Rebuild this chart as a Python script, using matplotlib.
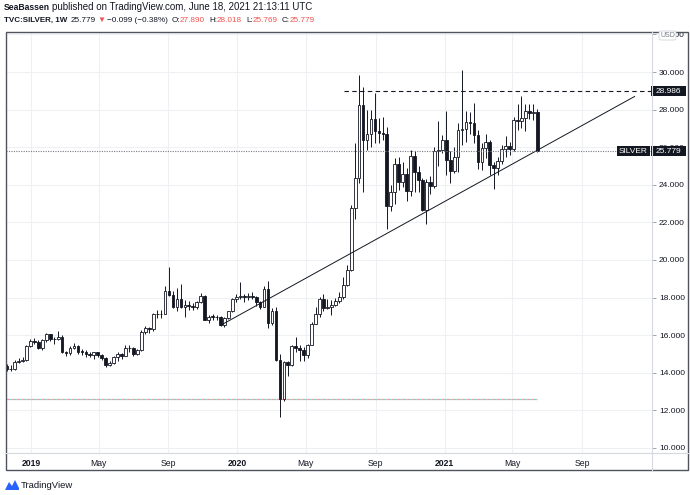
import matplotlib
matplotlib.use("Agg")
import matplotlib.pyplot as plt
import matplotlib.dates as mdates
from matplotlib.patches import Rectangle, FancyBboxPatch, Polygon
import numpy as np
import pandas as pd

plt.rcParams['font.family'] = ['Liberation Sans', 'DejaVu Sans']

# weekly TVC:SILVER candles, first week below, one value per week
first_week = "2018-11-19"
opens = [14.38, 14.20, 14.18, 14.58, 14.65, 14.68, 15.42, 15.70, 15.62, 15.30,
         15.74, 16.05, 15.82, 15.77, 15.88, 15.10, 15.05, 15.31, 15.42, 15.12,
         15.11, 14.99, 14.97, 15.09, 14.95, 14.77, 14.42, 14.54, 14.84, 15.02,
         14.91, 15.34, 15.30, 15.00, 15.20, 16.18, 16.39, 16.31, 17.11, 17.14,
         17.11, 18.36, 18.14, 17.49, 17.90, 17.50, 17.61, 17.54, 17.52, 17.74,
         18.10, 16.82, 16.98, 16.97, 16.95, 16.55, 16.90, 17.26, 17.95, 18.04,
         18.08, 18.02, 18.07, 18.03, 17.75, 17.50, 18.45, 16.63, 17.26, 14.68,
         12.58, 14.55, 14.40, 15.40, 15.33, 15.22, 14.95, 15.50, 16.60, 17.15,
         17.90, 17.45, 17.50, 17.58, 17.81, 18.03, 18.68, 19.45, 22.75, 24.38,
         28.25, 26.38, 26.70, 27.50, 26.85, 26.75, 26.70, 22.88, 23.62, 25.10,
         24.15, 24.55, 23.66, 25.55, 24.70, 24.25, 22.64, 24.15, 23.95, 25.80,
         25.85, 26.40, 25.30, 24.75, 25.50, 26.92, 26.95, 27.33, 27.27, 26.65,
         25.20, 25.95, 26.30, 25.05, 24.90, 25.25, 25.90, 26.05, 25.90, 27.45,
         27.40, 27.55, 27.94, 27.80, 27.89]
highs = [14.48, 14.40, 14.68, 14.80, 14.82, 15.48, 15.82, 15.87, 15.72, 15.80,
         16.14, 16.08, 15.92, 16.20, 16.00, 15.18, 15.40, 15.60, 15.45, 15.25,
         15.20, 15.10, 15.12, 15.12, 15.00, 14.82, 14.60, 14.88, 15.10, 15.05,
         15.50, 15.48, 15.38, 15.25, 16.30, 16.50, 16.45, 17.20, 17.33, 17.35,
         18.60, 19.65, 18.35, 18.50, 18.72, 17.85, 17.80, 17.70, 17.80, 18.25,
         18.15, 17.05, 17.10, 17.08, 17.00, 16.95, 17.30, 17.98, 18.20, 18.85,
         18.20, 18.25, 18.30, 18.10, 17.80, 18.60, 18.90, 17.45, 17.50, 15.00,
         14.65, 14.60, 15.50, 15.90, 15.45, 15.35, 15.55, 16.70, 17.50, 18.05,
         18.20, 17.95, 17.85, 18.00, 18.30, 19.10, 19.75, 22.90, 26.20, 29.86,
         29.20, 28.00, 28.00, 28.89, 27.55, 27.60, 27.10, 24.00, 25.40, 25.50,
         25.20, 24.90, 25.85, 25.80, 25.00, 24.35, 24.30, 24.45, 26.00, 27.40,
         26.65, 27.92, 25.80, 26.00, 27.30, 30.10, 27.95, 27.90, 28.35, 26.90,
         26.25, 26.70, 26.40, 25.20, 25.50, 26.10, 26.60, 26.30, 27.60, 28.30,
         28.74, 28.30, 28.30, 28.30, 28.018]
lows = [14.10, 14.08, 14.15, 14.52, 14.55, 14.65, 15.35, 15.55, 15.25, 15.20,
        15.65, 15.70, 15.55, 15.75, 15.05, 14.88, 14.95, 15.25, 15.00, 14.95,
        14.85, 14.85, 14.72, 14.85, 14.70, 14.28, 14.35, 14.45, 14.60, 14.75,
        14.90, 15.10, 14.90, 14.95, 15.15, 16.05, 16.10, 16.20, 16.90, 16.90,
        17.10, 18.10, 17.45, 17.30, 17.45, 16.95, 17.35, 17.35, 17.40, 17.70,
        16.80, 16.63, 16.80, 16.80, 16.50, 16.45, 16.85, 17.25, 17.75, 17.95,
        17.75, 17.85, 17.90, 17.55, 17.40, 17.48, 16.40, 16.55, 14.60, 11.64,
        12.50, 13.85, 14.35, 15.10, 14.65, 14.65, 14.80, 15.45, 16.60, 16.95,
        17.30, 17.40, 17.05, 17.55, 17.70, 17.95, 18.60, 19.40, 22.20, 24.10,
        23.60, 25.85, 26.00, 26.25, 26.20, 26.40, 21.67, 22.60, 23.00, 23.70,
        23.90, 23.15, 23.40, 23.60, 23.60, 22.60, 21.90, 23.50, 23.85, 25.00,
        25.70, 24.50, 24.10, 24.65, 24.70, 26.10, 26.30, 26.70, 26.20, 24.85,
        24.80, 25.40, 24.50, 23.78, 24.50, 25.10, 25.50, 25.60, 25.80, 26.90,
        27.00, 26.85, 27.50, 27.45, 25.769]
closes = [14.20, 14.18, 14.58, 14.65, 14.68, 15.42, 15.70, 15.62, 15.30, 15.74,
          16.05, 15.82, 15.77, 15.88, 15.10, 15.05, 15.31, 15.42, 15.12, 15.11,
          14.99, 14.97, 15.09, 14.95, 14.77, 14.42, 14.54, 14.84, 15.02, 14.91,
          15.34, 15.30, 15.00, 15.20, 16.18, 16.39, 16.31, 17.11, 17.14, 17.11,
          18.36, 18.14, 17.49, 17.90, 17.50, 17.61, 17.54, 17.52, 17.74, 18.10,
          16.82, 16.98, 16.97, 16.95, 16.55, 16.90, 17.26, 17.95, 18.04, 18.08,
          18.02, 18.07, 18.03, 17.75, 17.50, 18.45, 16.63, 17.26, 14.68, 12.58,
          14.55, 14.40, 15.40, 15.33, 15.22, 14.95, 15.50, 16.60, 17.15, 17.90,
          17.45, 17.50, 17.58, 17.81, 18.03, 18.68, 19.45, 22.75, 24.38, 28.25,
          26.38, 26.70, 27.50, 26.85, 26.75, 26.70, 22.88, 23.62, 25.10, 24.15,
          24.55, 23.66, 25.55, 24.70, 24.25, 22.64, 24.15, 23.95, 25.80, 25.85,
          26.40, 25.30, 24.75, 25.50, 26.92, 26.95, 27.33, 27.27, 26.65, 25.20,
          25.95, 26.30, 25.05, 24.90, 25.25, 25.90, 26.05, 25.90, 27.45, 27.40,
          27.55, 27.94, 27.80, 27.89, 25.779]

month_ticks = ["2019-01-01", "2019-05-01", "2019-09-01", "2020-01-01", "2020-05-01",
               "2020-09-01", "2021-01-01", "2021-05-01", "2021-09-01"]
month_labels = ["2019", "May", "Sep", "2020", "May", "Sep", "2021", "May", "Sep"]
price_ticks = [10, 12, 14, 16, 18, 20, 22, 24, 26, 28, 30, 32]

resistance = 28.986
resistance_from = "2020-07-07"
last_price = 25.779
trend_dates = ["2019-12-02", "2021-12-03"]
trend_prices = [16.52, 28.70]
old_level = 12.61

ink = '#131722'
red = '#ef5350'

weeks = pd.date_range(first_week, periods=len(closes), freq="7D")
x = mdates.date2num(weeks)
o, h, l, c = map(np.array, (opens, highs, lows, closes))

W, H = 690, 495
fig = plt.figure(figsize=(W / 100, H / 100), dpi=100)
left, right, top, bottom = 6, 652, 32, 453
ax = fig.add_axes([left / W, 1 - bottom / H, (right - left) / W, (bottom - top) / H])

jan = mdates.date2num(pd.Timestamp("2019-01-01"))
ppd = 0.5657  # pixels per day
ax.set_xlim(jan - (31 - left) / ppd, jan + (right - 31) / ppd)
ax.set_ylim(9.73, 32.13)

ax.grid(True, color='#eef0f4', lw=0.8)
ax.set_axisbelow(True)
for s in ax.spines.values():
    s.set_visible(False)

# candles
up = c >= o
lo = np.minimum(o, c)
bh = np.maximum(np.abs(c - o), 0.03)
ax.vlines(x, l, h, color=ink, lw=0.7, zorder=2)
ax.bar(x[up], bh[up], bottom=lo[up], width=4.8, color='white', edgecolor=ink, lw=0.6, zorder=3)
ax.bar(x[~up], bh[~up], bottom=lo[~up], width=4.8, color=ink, edgecolor=ink, lw=0.6, zorder=3)

# drawings
xr = ax.get_xlim()
ax.plot(mdates.date2num(pd.to_datetime(trend_dates)), trend_prices, color=ink, lw=0.7, zorder=4)
ax.plot([mdates.date2num(pd.Timestamp(resistance_from)), xr[1]], [resistance] * 2,
        color=ink, lw=0.8, ls=(0, (4, 3)), zorder=4)
ax.plot(xr, [last_price] * 2, color='#787b86', lw=0.8, ls=(0, (1, 1.2)), zorder=4)
ax.plot([xr[0], x[-1]], [old_level] * 2, color='#f59aa0', lw=0.9, ls=(0, (2, 2)), zorder=1)
ax.plot([xr[0], x[-1]], [old_level] * 2, color='#86d0c8', lw=0.9, ls=(2, (2, 2)), zorder=1)
ax.set_xlim(xr)

ax.yaxis.tick_right()
ax.set_yticks(price_ticks)
ax.set_yticklabels([f"{v:.3f}" for v in price_ticks])
ax.tick_params(axis='y', length=3, width=0.6, color='#9598a1', pad=2, labelsize=6, labelcolor=ink)
ax.set_xticks(mdates.date2num(pd.to_datetime(month_ticks)))
ax.set_xticklabels(month_labels)
ax.tick_params(axis='x', length=0, pad=4, labelsize=6.2, labelcolor=ink)
for lbl in ax.get_xticklabels():
    if lbl.get_text().isdigit():
        lbl.set_fontweight('bold')

# overlay in pixel coordinates
fa = fig.add_axes([0, 0, 1, 1], zorder=5)
fa.set_xlim(0, W)
fa.set_ylim(H, 0)
fa.axis('off')
fa.patch.set_alpha(0)

def py(price):
    return H - ax.transData.transform((xr[0], price))[1]

fa.add_patch(Rectangle((left, top), 688 - left, 470 - top, fill=False, ec='#50535e', lw=1))
fa.plot([right, right], [top, 470], color='#d6d9e0', lw=0.8)
fa.plot([left, 688], [bottom, bottom], color='#d6d9e0', lw=0.8)

for val, txt in [(resistance, f"{resistance:.3f}"), (last_price, f"{last_price:.3f}")]:
    yy = py(val)
    fa.add_patch(Rectangle((right - 1, yy - 5), 35, 10, fc=ink, ec='none'))
    fa.text(right + 16.5, yy + 0.3, txt, color='white', fontsize=6, ha='center', va='center')
yy = py(last_price)
fa.add_patch(Rectangle((617, yy - 5), 33, 10, fc=ink, ec='none'))
fa.text(633.5, yy + 0.3, "SILVER", color='white', fontsize=6, ha='center', va='center')

fa.add_patch(FancyBboxPatch((659, 31), 17, 9, boxstyle="round,pad=0,rounding_size=2",
                            fc='white', ec='#d1d4dc', lw=0.6))
fa.text(667.5, 35.8, "USD", fontsize=5, color='#787b86', ha='center', va='center')

# header
renderer = fig.canvas.get_renderer()

def chain(x0, y0, parts):
    xx = x0
    for s, col, wt, size, gap in parts:
        t = fa.text(xx, y0, s, color=col, fontweight=wt, fontsize=size, ha='left', va='center')
        xx = t.get_window_extent(renderer).x1 + gap

chain(4, 7, [("SeaBassen", ink, 'bold', 6.2, 2.5),
             ("published on TradingView.com, June 18, 2021 21:13:11 UTC", ink, 'normal', 7.0, 0)])
s2 = 5.9
chain(4, 20, [("TVC:SILVER, 1W", ink, 'bold', 5.8, 3),
              ("25.779", ink, 'normal', s2, 2),
              ("\u25bc", red, 'normal', s2, 2),
              ("\u22120.099 (\u22120.38%)", ink, 'normal', s2, 3),
              ("O:", ink, 'normal', s2, 0), ("27.890", red, 'normal', s2, 4),
              ("H:", ink, 'normal', s2, 0), ("28.018", red, 'normal', s2, 4),
              ("L:", ink, 'normal', s2, 0), ("25.769", red, 'normal', s2, 4),
              ("C:", ink, 'normal', s2, 0), ("25.779", red, 'normal', s2, 0)])

# footer logo
fa.add_patch(Polygon([[5, 490], [9, 482], [12, 486], [15, 480], [19, 488], [19, 490]],
                     closed=True, fc='#2962ff', ec='none'))
fa.text(21, 485, "TradingView", fontsize=6.8, color=ink, ha='left', va='center')

fig.savefig("out.png", dpi=100)
